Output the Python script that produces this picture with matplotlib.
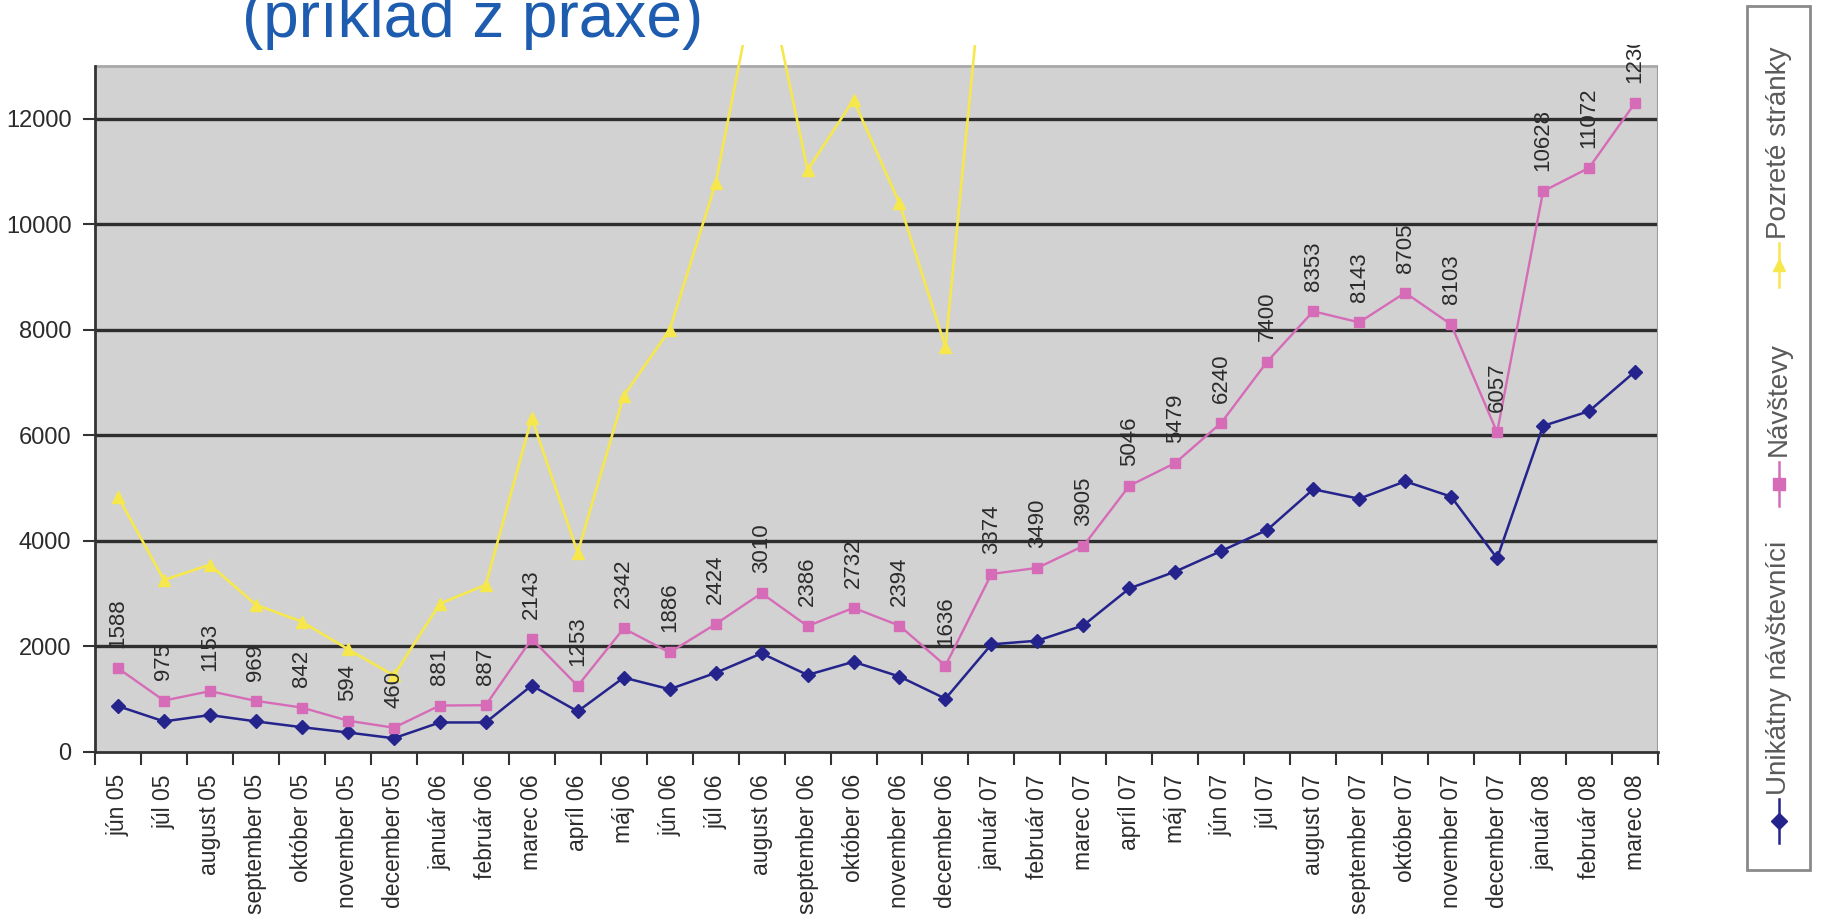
import numpy as np
import matplotlib
matplotlib.use("Agg")
import matplotlib.pyplot as plt
from matplotlib.lines import Line2D
from matplotlib.patches import Rectangle

plt.rcParams["font.family"] = ["Liberation Sans", "DejaVu Sans"]

months = [
    "jún 05", "júl 05", "august 05", "september 05", "október 05", "november 05", "december 05",
    "január 06", "február 06", "marec 06", "apríl 06", "máj 06", "jún 06", "júl 06",
    "august 06", "september 06", "október 06", "november 06", "december 06",
    "január 07", "február 07", "marec 07", "apríl 07", "máj 07", "jún 07", "júl 07",
    "august 07", "september 07", "október 07", "november 07", "december 07",
    "január 08", "február 08", "marec 08",
]

# Unikátny návštevníci (no labels in the original)
unique_visitors = [
    870, 580, 700, 580, 470, 370, 260, 560, 560, 1260, 770, 1410, 1190, 1500,
    1870, 1460, 1710, 1430, 1010, 2040, 2110, 2400, 3100, 3420, 3810, 4210,
    4980, 4800, 5130, 4840, 3670, 6180, 6460, 7210,
]

# Návštevy (data labels in the original)
visits = [
    1588, 975, 1153, 969, 842, 594, 460, 881, 887, 2143, 1253, 2342, 1886, 2424,
    3010, 2386, 2732, 2394, 1636, 3374, 3490, 3905, 5046, 5479, 6240, 7400,
    8353, 8143, 8705, 8103, 6057, 10628, 11072, 12300,
]

# Pozreté stránky (runs off the top of the chart from február 07 on)
page_views = [
    4840, 3260, 3550, 2790, 2470, 1950, 1450, 2810, 3170, 6330, 3780, 6750, 8000, 10780,
    15200, 11030, 12360, 10400, 7680, 16600,
] + [np.nan] * 14

legend_names = ["Unikátny návštevníci", "Návštevy", "Pozreté stránky"]

BLUE = "#24248c"
PINK = "#d66cb8"
YELLOW = "#f6e84c"
PLOT_BG = "#d2d2d2"
GRID = "#2e2e2e"
TEXT = "#2b2b2b"

W, H = 1830, 916
fig = plt.figure(figsize=(W / 100, H / 100), dpi=100)
ax = fig.add_axes([95 / W, 1 - 752 / H, (1658 - 95) / W, (752 - 45) / H])
ax.patch.set_visible(False)

x = np.arange(len(months))
ax.set_xlim(-0.5, len(months) - 0.5)
ax.set_ylim(0, 13400)

# plot area: gray box up to 13000, white strip above it
ax.axhspan(0, 13000, color=PLOT_BG, zorder=0)
ax.hlines(np.arange(2000, 13000, 2000), -0.5, len(months) - 0.5, color=GRID, lw=2.4, zorder=1)
ax.hlines(13000, -0.5, len(months) - 0.5, color="#a9a9a9", lw=2, zorder=1)
ax.vlines(len(months) - 0.5, 0, 13000, color="#9c9c9c", lw=1.5, zorder=1)

ax.plot(x, unique_visitors, color=BLUE, lw=1.8, marker="D", ms=7, zorder=3)
ax.plot(x, visits, color=PINK, lw=1.7, marker="s", ms=7, zorder=3)
ax.plot(x, page_views, color=YELLOW, lw=1.9, marker="^", ms=8, zorder=3)

for xi, v in zip(x, visits):
    ax.annotate(str(v), (xi, v), xytext=(0, 14.5), textcoords="offset points",
                rotation=90, ha="center", va="bottom", fontsize=16, color=TEXT,
                clip_on=True, zorder=4)

for side in ["top", "right"]:
    ax.spines[side].set_visible(False)
ax.spines["left"].set_bounds(0, 13000)
for side in ["left", "bottom"]:
    ax.spines[side].set_color("#333333")
    ax.spines[side].set_linewidth(2)

ax.set_yticks(np.arange(0, 13000, 2000))
ax.tick_params(axis="y", direction="out", length=9, width=1.5, color="#333333",
               labelsize=17, labelcolor=TEXT, pad=8)

ax.set_xticks(np.arange(-0.5, len(months)), minor=False)
ax.set_xticklabels([])
ax.set_xticks(x, minor=True)
ax.set_xticklabels(months, minor=True, rotation=90, fontsize=16.5, color=TEXT)
ax.tick_params(axis="x", which="major", direction="out", length=9, width=1.5, color="#333333")
ax.tick_params(axis="x", which="minor", length=0, pad=16)

# title, partly cut by the top edge as in the original slide
fig.text(473 / W, 1 - 37 / H, "(príklad z praxe)", fontsize=46, color="#1d5cae",
         ha="center", va="baseline")

# vertical legend box at the right
lx0, lx1, ly0, ly1 = 1747, 1810, 6, 870
fig.patches.append(Rectangle((lx0 / W, 1 - ly1 / H), (lx1 - lx0) / W, (ly1 - ly0) / H,
                             transform=fig.transFigure, facecolor="white",
                             edgecolor="#8a8a8a", lw=2))
lxc = (lx0 + lx1) / 2 / W
entries = [
    (legend_names[0], BLUE, "D", 821, 795),
    (legend_names[1], PINK, "s", 484, 456),
    (legend_names[2], YELLOW, "^", 265, 239),
]
for name, color, mk, my, ty in entries:
    fig.lines.append(Line2D([lxc, lxc], [1 - (my + 22) / H, 1 - (my - 22) / H],
                            transform=fig.transFigure, color=color, lw=1.8))
    fig.lines.append(Line2D([lxc], [1 - my / H], transform=fig.transFigure,
                            color=color, marker=mk, ms=8, lw=0))
    fig.text(lxc, 1 - ty / H, name, rotation=90, ha="center", va="bottom",
             fontsize=20, color="#5a5a5a")

fig.savefig("out.png", dpi=100, facecolor="white")
